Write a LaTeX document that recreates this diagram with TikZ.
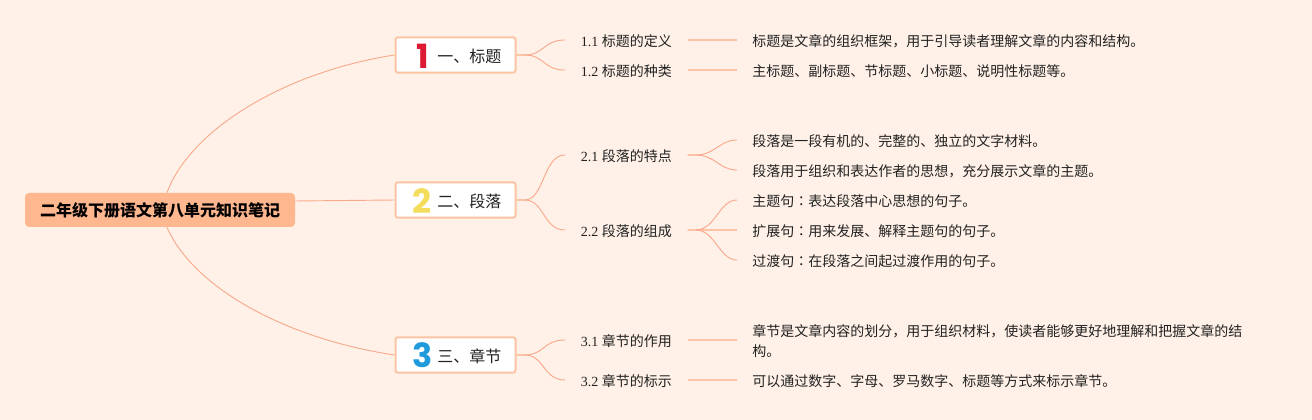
\documentclass[tikz,border=0pt]{standalone}
\usepackage{fontspec}
\setmainfont{Liberation Serif}
\newfontfamily\cjk{Noto Sans CJK SC}
\newfontfamily\cjkjp{Noto Sans CJK JP}
\newfontfamily\numf{Poppins}
\newcommand{\cln}{{\cjkjp ：}}
\definecolor{bgc}{HTML}{FFF1E7}
\definecolor{rootc}{HTML}{FFB78F}
\definecolor{linec}{HTML}{F9A98D}
\definecolor{boxc}{HTML}{FBC5A5}
\definecolor{txt}{HTML}{222222}
\definecolor{one}{HTML}{DC1A34}
\definecolor{two}{HTML}{F3DD5B}
\definecolor{three}{HTML}{1F9ADB}
\tikzset{
  x=0.75pt,y=-0.75pt,
  rootn/.style={fill=rootc,rounded corners=3pt,minimum width=202.5pt,minimum height=25.5pt,inner sep=0pt,font=\cjk\bfseries\fontsize{12}{14}\selectfont,text=black},
  lvlone/.style={draw=boxc,line width=1.5pt,fill=white,rounded corners=1.8pt,minimum width=90pt,minimum height=26.5pt,inner sep=0pt},
  lvlonet/.style={anchor=west,inner sep=0pt,font=\cjk\fontsize{12}{14}\selectfont,text=txt},
  digit/.style={inner sep=0pt,font=\numf\bfseries\fontsize{25}{27}\selectfont},
  lvltwo/.style={anchor=west,inner sep=0pt,minimum width=91.5pt,align=center,font=\fontsize{10.5}{13}\selectfont,text=txt},
  leaf/.style={anchor=west,inner xsep=11.25pt,inner ysep=0pt,font=\cjk\fontsize{10.5}{15}\selectfont,text=txt,align=left},
  conn/.style={draw=linec,line width=0.7pt},
  stub/.style={draw=boxc,line width=1pt},
}
\begin{document}
\begin{tikzpicture}
\fill[bgc] (0,0) rectangle (1312,420);
\useasboundingbox (0,0) rectangle (1312,420);
\node[rootn] (root) at (160,210) {\raisebox{-0.75pt}{二年级下册语文第八单元知识笔记}};
\node[lvlone] (A) at (455.5,55) {};
\node[lvlone] (B) at (455.5,200) {};
\node[lvlone] (C) at (455.5,355) {};
\node[digit,text=one] (dA) at (423,56) {1};
\node[digit,text=two] (dB) at (422,201) {2};
\node[digit,text=three] (dC) at (423,355) {3};
\node[lvlonet] (tA) at (437,56) {一、标题};
\node[lvlonet] (tB) at (437,201) {二、段落};
\node[lvlonet] (tC) at (437,356) {三、章节};
\newcommand{\lt}[2]{#1 {\cjk #2}}
\node[lvltwo] (A1) at (565,41) {\lt{1.1}{标题的定义}};
\node[lvltwo] (A2) at (565,71) {\lt{1.2}{标题的种类}};
\node[lvltwo] (B1) at (565,156) {\lt{2.1}{段落的特点}};
\node[lvltwo] (B2) at (565,231) {\lt{2.2}{段落的组成}};
\node[lvltwo] (C1) at (565,341) {\lt{3.1}{章节的作用}};
\node[lvltwo] (C2) at (565,381) {\lt{3.2}{章节的标示}};
\node[leaf] (a1) at (737,41) {标题是文章的组织框架，用于引导读者理解文章的内容和结构。};
\node[leaf] (a2) at (737,71) {主标题、副标题、节标题、小标题、说明性标题等。};
\node[leaf] (b1) at (737,141) {段落是一段有机的、完整的、独立的文字材料。};
\node[leaf] (b2) at (737,171) {段落用于组织和表达作者的思想，充分展示文章的主题。};
\node[leaf] (b3) at (737,201) {主题句\cln 表达段落中心思想的句子。};
\node[leaf] (b4) at (737,231) {扩展句\cln 用来发展、解释主题句的句子。};
\node[leaf] (b5) at (737,261) {过渡句\cln 在段落之间起过渡作用的句子。};
\node[leaf] (c1) at (737,341) {章节是文章内容的划分，用于组织材料，使读者能够更好地理解和把握文章的结\\构。};
\node[leaf] (c2) at (737,381) {可以通过数字、字母、罗马数字、标题等方式来标示章节。};
% connectors
\draw[conn] ([xshift=5.25pt]root.north) .. controls +(23,-63) and +(-110,17) .. (A.west);
\draw[conn] ([xshift=5.25pt]root.south) .. controls +(25,58) and +(-113,-17) .. (C.west);
\draw[conn] (root.east) ++(0,-9) -- (B.west);
\foreach \p/\q in {A/A1,A/A2,B/B1,B/B2,C/C1,C/C2}{
  \draw[conn] (\p.east) -- ++(8,0) .. controls +(20,0) and +(-22,0) .. ([yshift=0.75pt]\q.west);
  \draw[stub] (\p.east) -- ++(8,0);
}
\foreach \p/\q in {A1/a1,A2/a2,C1/c1,C2/c2,B2/b4}{
  \draw[stub] ([yshift=0.75pt]\p.east) -- ([yshift=0.75pt]\q.west);
}
\foreach \p/\q in {B1/b1,B1/b2,B2/b3,B2/b5}{
  \draw[conn] ([yshift=0.75pt]\p.east) -- ++(8,0) .. controls +(20,0) and +(-18,0) .. ([yshift=0.75pt]\q.west);
  \draw[stub] ([yshift=0.75pt]\p.east) -- ++(8,0);
}
\end{tikzpicture}
\end{document}
